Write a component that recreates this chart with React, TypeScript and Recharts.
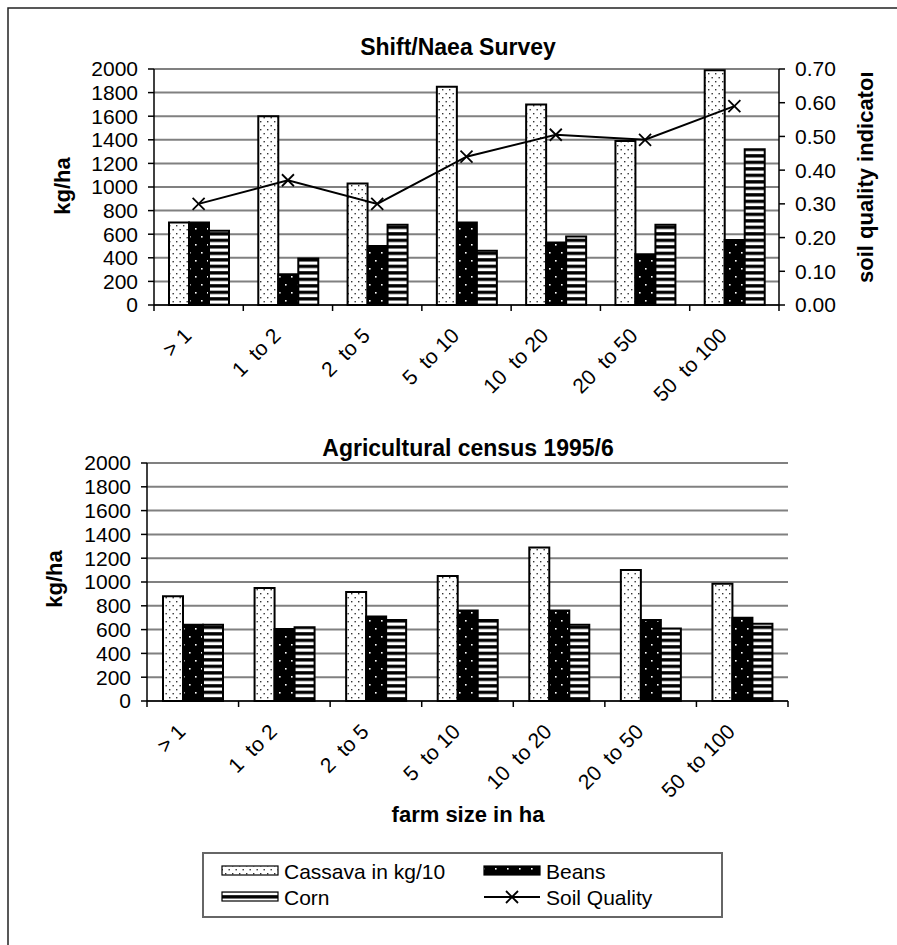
import React from "react";
import { ComposedChart, BarChart, Bar, Line, XAxis, YAxis, CartesianGrid } from "recharts";

// Farm size classes (ha)
const farmSizes = ["> 1", "1  to 2", "2  to 5", "5  to 10", "10  to 20", "20  to 50", "50  to 100"];

// Shift/Naea survey (kg/ha, cassava in kg/10)
const surveyCassava = [700, 1600, 1030, 1850, 1700, 1390, 1990];
const surveyBeans = [700, 260, 500, 700, 530, 430, 550];
const surveyCorn = [630, 395, 680, 460, 580, 680, 1320];
const surveySoil = [0.3, 0.37, 0.3, 0.44, 0.505, 0.49, 0.59];

// Agricultural census 1995/6 (kg/ha, cassava in kg/10)
const censusCassava = [880, 950, 915, 1050, 1290, 1100, 985];
const censusBeans = [640, 605, 710, 760, 760, 680, 700];
const censusCorn = [640, 620, 680, 680, 640, 610, 650];

const yieldTicks = [0, 200, 400, 600, 800, 1000, 1200, 1400, 1600, 1800, 2000];
const soilTicks = [0, 0.1, 0.2, 0.3, 0.4, 0.5, 0.6, 0.7];

const legendItems = [
  { name: "Cassava in kg/10", kind: "cassava" },
  { name: "Beans", kind: "beans" },
  { name: "Corn", kind: "corn" },
  { name: "Soil Quality", kind: "soil" },
];

const surveyData = farmSizes.map((size, i) => ({
  size,
  cassava: surveyCassava[i],
  beans: surveyBeans[i],
  corn: surveyCorn[i],
  soil: surveySoil[i],
}));

const censusData = farmSizes.map((size, i) => ({
  size,
  cassava: censusCassava[i],
  beans: censusBeans[i],
  corn: censusCorn[i],
}));

const FONT = "'Liberation Sans', Arial, sans-serif";
const GRID = "#808080";

function FarmTick(props: any) {
  const { x, y, payload, index } = props;
  const half = payload && payload.offset ? payload.offset : 0;
  const lx = x - 6;
  const ly = y + 32;
  return (
    <g>
      <line x1={x - half} y1={y} x2={x - half} y2={y + 6} stroke="#000" strokeWidth={1.5} />
      {index === farmSizes.length - 1 && (
        <line x1={x + half} y1={y} x2={x + half} y2={y + 6} stroke="#000" strokeWidth={1.5} />
      )}
      <text
        x={lx}
        y={ly}
        transform={`rotate(-45 ${lx} ${ly})`}
        textAnchor="end"
        fontSize={21}
        fontFamily={FONT}
        fill="#000"
        style={{ whiteSpace: "pre" }}
      >
        {payload.value}
      </text>
    </g>
  );
}

function CrossDot(props: any) {
  const { cx, cy } = props;
  if (cx == null || cy == null) return null;
  const s = 6;
  return (
    <g>
      <line x1={cx - s} y1={cy - s} x2={cx + s} y2={cy + s} stroke="#000" strokeWidth={1.8} />
      <line x1={cx - s} y1={cy + s} x2={cx + s} y2={cy - s} stroke="#000" strokeWidth={1.8} />
    </g>
  );
}

function Patterns() {
  return (
    <svg width={0} height={0} style={{ position: "absolute" }}>
      <defs>
        <pattern id="patCassava" patternUnits="userSpaceOnUse" width={7} height={8}>
          <rect width={7} height={8} fill="#fff" />
          <rect x={1} y={1} width={1.4} height={1.4} fill="#333" />
          <rect x={4.5} y={5} width={1.4} height={1.4} fill="#333" />
        </pattern>
        <pattern id="patBeans" patternUnits="userSpaceOnUse" width={12} height={16}>
          <rect width={12} height={16} fill="#000" />
          <rect x={3} y={4} width={1.6} height={1.6} fill="#fff" />
          <rect x={9} y={12} width={1.6} height={1.6} fill="#fff" />
        </pattern>
        <pattern id="patCorn" patternUnits="userSpaceOnUse" width={4} height={6.5}>
          <rect width={4} height={6.5} fill="#000" />
          <rect x={0} y={1.5} width={4} height={3.2} fill="#fff" />
        </pattern>
      </defs>
    </svg>
  );
}

const tickStyle = { fontSize: 21, fontFamily: FONT, fill: "#000" };

function SurveyChart() {
  return (
    <ComposedChart
      width={897}
      height={420}
      data={surveyData}
      margin={{ top: 69, right: 58, bottom: 15, left: 94 }}
      barGap={0}
      barSize={20}
    >
      <CartesianGrid yAxisId="left" vertical={false} stroke={GRID} strokeWidth={2} />
      <XAxis
        dataKey="size"
        height={100}
        interval={0}
        tickSize={0}
        tickMargin={0}
        tick={FarmTick}
        axisLine={{ stroke: "#000", strokeWidth: 1.5 }}
      />
      <YAxis
        yAxisId="left"
        width={60}
        domain={[0, 2000]}
        ticks={yieldTicks}
        interval={0}
        tick={tickStyle}
        tickSize={6}
        tickMargin={10}
        axisLine={{ stroke: "#000", strokeWidth: 1.5 }}
        tickLine={{ stroke: "#000", strokeWidth: 1.5 }}
      />
      <YAxis
        yAxisId="right"
        orientation="right"
        width={60}
        domain={[0, 0.7]}
        ticks={soilTicks}
        interval={0}
        tickFormatter={(v: number) => v.toFixed(2)}
        tick={tickStyle}
        tickSize={6}
        tickMargin={10}
        axisLine={{ stroke: "#000", strokeWidth: 1.5 }}
        tickLine={{ stroke: "#000", strokeWidth: 1.5 }}
      />
      <Bar yAxisId="left" dataKey="cassava" fill="url(#patCassava)" stroke="#000" strokeWidth={2} isAnimationActive={false} />
      <Bar yAxisId="left" dataKey="beans" fill="url(#patBeans)" stroke="#000" strokeWidth={2} isAnimationActive={false} />
      <Bar yAxisId="left" dataKey="corn" fill="url(#patCorn)" stroke="#000" strokeWidth={2} isAnimationActive={false} />
      <Line
        yAxisId="right"
        dataKey="soil"
        stroke="#000"
        strokeWidth={2}
        dot={CrossDot}
        activeDot={false}
        isAnimationActive={false}
      />
    </ComposedChart>
  );
}

function CensusChart() {
  return (
    <BarChart
      width={897}
      height={420}
      data={censusData}
      margin={{ top: 63, right: 109, bottom: 19, left: 87 }}
      barGap={0}
      barSize={20}
    >
      <CartesianGrid vertical={false} stroke={GRID} strokeWidth={2} />
      <XAxis
        dataKey="size"
        height={100}
        interval={0}
        tickSize={0}
        tickMargin={0}
        tick={FarmTick}
        axisLine={{ stroke: "#000", strokeWidth: 1.5 }}
      />
      <YAxis
        width={60}
        domain={[0, 2000]}
        ticks={yieldTicks}
        interval={0}
        tick={tickStyle}
        tickSize={6}
        tickMargin={10}
        axisLine={{ stroke: "#000", strokeWidth: 1.5 }}
        tickLine={{ stroke: "#000", strokeWidth: 1.5 }}
      />
      <Bar dataKey="cassava" fill="url(#patCassava)" stroke="#000" strokeWidth={2} isAnimationActive={false} />
      <Bar dataKey="beans" fill="url(#patBeans)" stroke="#000" strokeWidth={2} isAnimationActive={false} />
      <Bar dataKey="corn" fill="url(#patCorn)" stroke="#000" strokeWidth={2} isAnimationActive={false} />
    </BarChart>
  );
}

function LegendSwatch({ kind, x, y }: { kind: string; x: number; y: number }) {
  if (kind === "soil") {
    return (
      <g>
        <line x1={x} y1={y} x2={x + 56} y2={y} stroke="#000" strokeWidth={2} />
        <CrossDot cx={x + 28} cy={y} />
      </g>
    );
  }
  const fill = kind === "cassava" ? "url(#patCassava)" : kind === "beans" ? "url(#patBeans)" : "url(#patCorn)";
  return <rect x={x} y={y - 5} width={56} height={9} fill={fill} stroke="#000" strokeWidth={1.2} />;
}

function Overlay() {
  return (
    <svg width={897} height={945} style={{ position: "absolute", left: 0, top: 0, pointerEvents: "none" }}>
      <defs>
        <clipPath id="rightTitleClip">
          <rect x={820} y={73} width={80} height={300} />
        </clipPath>
      </defs>
      {/* page frame */}
      <rect x={8} y={8} width={1000} height={1000} fill="none" stroke="#222" strokeWidth={1.5} />

      {/* chart titles */}
      <text x={458} y={55} textAnchor="middle" fontSize={23} fontWeight="bold" fontFamily={FONT}>
        Shift/Naea Survey
      </text>
      <text x={468} y={456} textAnchor="middle" fontSize={23} fontWeight="bold" fontFamily={FONT}>
        Agricultural census 1995/6
      </text>

      {/* axis titles */}
      <text
        x={62}
        y={186}
        transform="rotate(-90 62 186)"
        textAnchor="middle"
        dominantBaseline="central"
        fontSize={22}
        fontWeight="bold"
        fontFamily={FONT}
      >
        kg/ha
      </text>
      <g clipPath="url(#rightTitleClip)">
        <text
          x={865}
          y={176}
          transform="rotate(-90 865 176)"
          textAnchor="middle"
          dominantBaseline="central"
          fontSize={22}
          fontWeight="bold"
          fontFamily={FONT}
        >
          soil quality indicator
        </text>
      </g>
      <text
        x={54}
        y={579}
        transform="rotate(-90 54 579)"
        textAnchor="middle"
        dominantBaseline="central"
        fontSize={22}
        fontWeight="bold"
        fontFamily={FONT}
      >
        kg/ha
      </text>
      <text x={468} y={822} textAnchor="middle" fontSize={22} fontWeight="bold" fontFamily={FONT}>
        farm size in ha
      </text>

      {/* legend */}
      <rect x={203} y={853} width={519} height={64} fill="#fff" stroke="#666" strokeWidth={2} />
      {legendItems.map((item, i) => {
        const col = i % 2;
        const row = Math.floor(i / 2);
        const sx = col === 0 ? 222 : 484;
        const sy = row === 0 ? 871 : 897;
        return (
          <g key={item.name}>
            <LegendSwatch kind={item.kind} x={sx} y={sy} />
            <text x={sx + 62} y={sy + 7.5} fontSize={21} fontFamily={FONT} fill="#000">
              {item.name}
            </text>
          </g>
        );
      })}
    </svg>
  );
}

export default function App() {
  return (
    <div style={{ position: "absolute", left: 0, top: 0, width: 897, height: 945, background: "#fff", overflow: "hidden", fontFamily: FONT }}>
      <Patterns />
      <div style={{ position: "absolute", left: 0, top: 0 }}>
        <SurveyChart />
      </div>
      <div style={{ position: "absolute", left: 0, top: 400 }}>
        <CensusChart />
      </div>
      <Overlay />
    </div>
  );
}
